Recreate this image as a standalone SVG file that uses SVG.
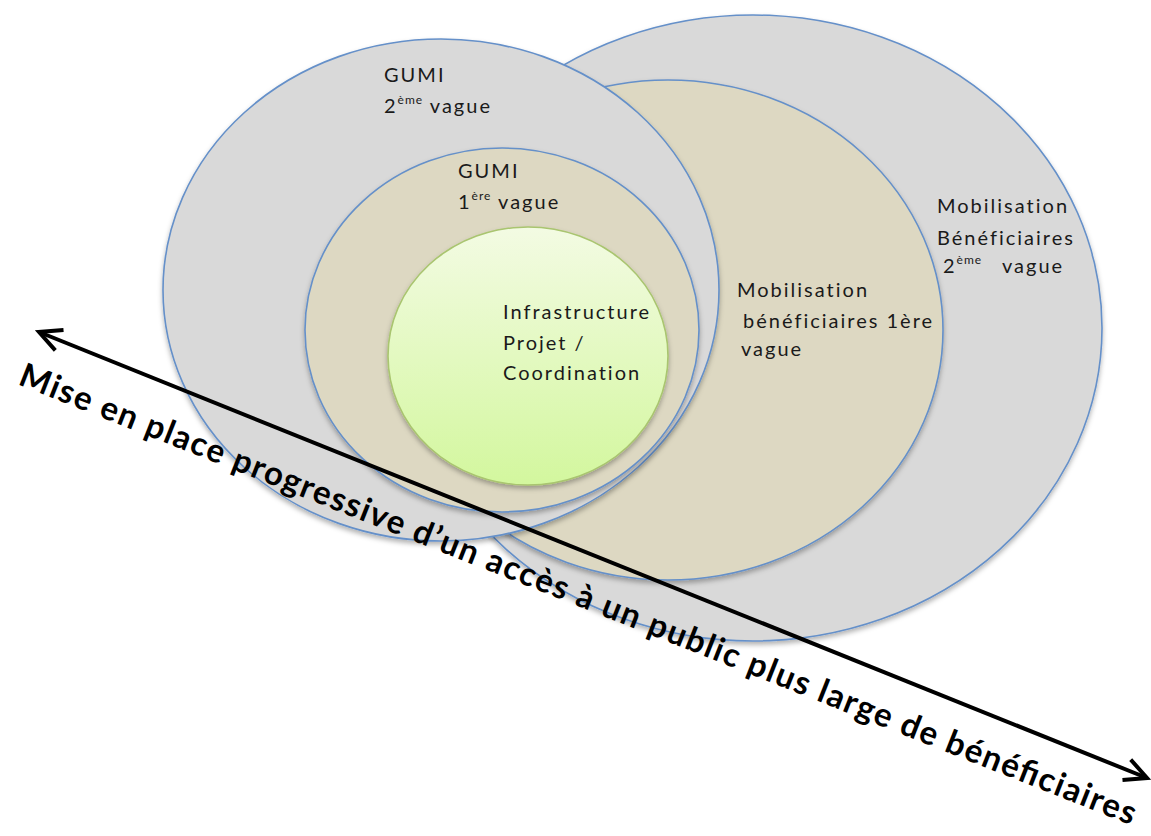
<svg xmlns="http://www.w3.org/2000/svg" width="1151" height="836" viewBox="0 0 1151 836">
  <defs>
    <style>
      .ring { stroke: #6590c9; stroke-width: 1.6; }
      .grey { fill: #d9d9d9; }
      .beige { fill: #ddd8c2; }
      .lbl { font-family: Lato, "Open Sans", "Liberation Sans", sans-serif; font-size: 20px; letter-spacing: 2px; fill: #1a1a1a; }
      .sup { font-size: 12px; letter-spacing: 1px; }
      .axis { font-family: Lato, "Open Sans", "Liberation Sans", sans-serif; font-weight: bold; font-size: 33px; fill: #000; }
    </style>
    <linearGradient id="greenFill" x1="0" y1="0" x2="0" y2="1">
      <stop offset="0" stop-color="#f3fbe3"/>
      <stop offset="1" stop-color="#d3f79e"/>
    </linearGradient>
    <filter id="shadow" x="-10%" y="-10%" width="120%" height="125%">
      <feDropShadow dx="0" dy="3" stdDeviation="2.5" flood-color="#000" flood-opacity="0.3"/>
    </filter>
    <marker id="chevron" markerUnits="userSpaceOnUse" viewBox="-26 -14 30 28" refX="0" refY="0" markerWidth="30" markerHeight="28" orient="auto-start-reverse">
      <path d="M-22,-11 L0,0 L-22,11" fill="none" stroke="#000" stroke-width="4" stroke-linejoin="miter"/>
    </marker>
  </defs>

  <!-- outer ring: second wave of beneficiaries -->
  <g id="mobilisation-2">
    <ellipse class="ring grey" cx="753" cy="328" rx="349" ry="313" filter="url(#shadow)"/>
    <text class="lbl" x="937" y="213">Mobilisation</text>
    <text class="lbl" x="937" y="245">Bénéficiaires</text>
    <text class="lbl" x="943" y="273">2<tspan class="sup" dy="-9">ème</tspan></text>
    <text class="lbl" x="1002" y="273">vague</text>
  </g>

  <!-- first wave of beneficiaries -->
  <g id="mobilisation-1">
    <ellipse class="ring beige" cx="668" cy="330" rx="275" ry="250" filter="url(#shadow)"/>
    <text class="lbl" x="737" y="297">Mobilisation</text>
    <text class="lbl" x="743" y="328">bénéficiaires 1ère</text>
    <text class="lbl" x="741" y="356">vague</text>
  </g>

  <!-- GUMI second wave -->
  <g id="gumi-2">
    <ellipse class="ring grey" cx="441" cy="290" rx="278" ry="251" filter="url(#shadow)"/>
    <text class="lbl" x="384" y="82">GUMI</text>
    <text class="lbl" x="384" y="113">2<tspan class="sup" dy="-9">ème</tspan><tspan dy="9"> vague</tspan></text>
  </g>

  <!-- GUMI first wave -->
  <g id="gumi-1">
    <ellipse class="ring beige" cx="502" cy="330" rx="197" ry="182" filter="url(#shadow)"/>
    <text class="lbl" x="458" y="178">GUMI</text>
    <text class="lbl" x="458" y="209">1<tspan class="sup" dy="-9">ère</tspan><tspan dy="9"> vague</tspan></text>
  </g>

  <!-- core -->
  <g id="infrastructure">
    <ellipse cx="528" cy="356" rx="140" ry="129" fill="url(#greenFill)" stroke="#a9c56f" stroke-width="1.6" filter="url(#shadow)"/>
    <text class="lbl" x="503" y="319">Infrastructure</text>
    <text class="lbl" x="503" y="350">Projet /</text>
    <text class="lbl" x="503" y="380">Coordination</text>
  </g>

  <!-- progression axis -->
  <g id="connectors">
    <line x1="39" y1="332" x2="1147" y2="778" stroke="#000" stroke-width="4" marker-start="url(#chevron)" marker-end="url(#chevron)"/>
    <text class="axis" transform="translate(17,384) rotate(21.6)" textLength="1198" lengthAdjust="spacing">Mise en place progressive d’un accès à un public plus large de bénéficiaires</text>
  </g>
</svg>
